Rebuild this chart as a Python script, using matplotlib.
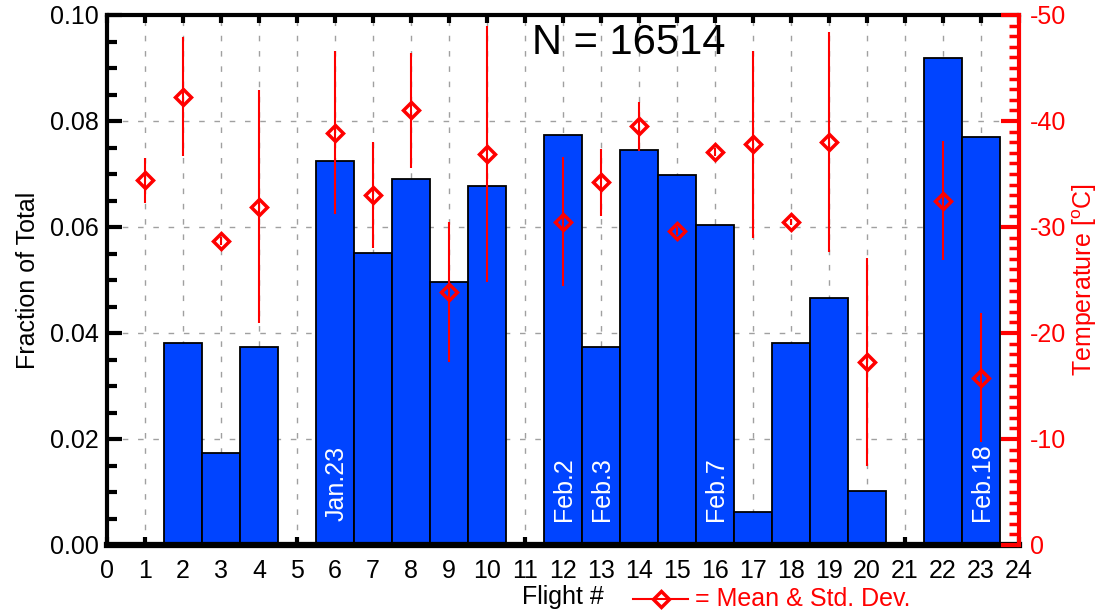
import matplotlib
matplotlib.use("Agg")
import matplotlib.pyplot as plt
from matplotlib.lines import Line2D
from matplotlib.ticker import MultipleLocator, FormatStrFormatter

plt.rcParams['font.family'] = ['Liberation Sans', 'DejaVu Sans']
plt.rcParams['mathtext.fontset'] = 'custom'
plt.rcParams['mathtext.rm'] = 'Liberation Sans'
plt.rcParams['mathtext.it'] = 'Liberation Sans'
plt.rcParams['axes.unicode_minus'] = False

# ---- data ----
flights = [2, 3, 4, 6, 7, 8, 9, 10, 12, 13, 14, 15, 16, 17, 18, 19, 20, 22, 23]
fraction = [0.0382, 0.0173, 0.0373, 0.0725, 0.0551, 0.0690, 0.0497, 0.0677,
            0.0773, 0.0374, 0.0745, 0.0699, 0.0603, 0.0062, 0.0382, 0.0466,
            0.0101, 0.0919, 0.0769]

temp_flights = [1, 2, 3, 4, 6, 7, 8, 9, 10, 12, 13, 14, 15, 16, 17, 18, 19, 20, 22, 23]
temp_mean = [-34.4, -42.3, -28.7, -31.9, -38.9, -33.0, -41.0, -23.9, -36.9,
             -30.5, -34.2, -39.5, -29.6, -37.1, -37.8, -30.5, -38.0, -17.3,
             -32.5, -15.8]
temp_std = [2.1, 5.6, 0.4, 11.0, 7.7, 5.0, 5.4, 6.6, 12.1,
            6.1, 3.2, 2.3, 0.4, 0.4, 8.8, 0.3, 10.4, 9.8,
            5.6, 6.1]

date_flights = [6, 12, 13, 16, 23]
date_labels = ['Jan.23', 'Feb.2', 'Feb.3', 'Feb.7', 'Feb.18']

xticks = list(range(0, 25))
n_text = 'N = 16514'

FS = 18

# ---- figure ----
W, H = 1097, 610
fig = plt.figure(figsize=(W / 100, H / 100), dpi=100)
L, R, B, T = 107, 1019, 545, 15
ax = fig.add_axes([L / W, 1 - B / H, (R - L) / W, (B - T) / H])

ax.bar(flights, fraction, width=1.0, color='#0044ff', edgecolor='black',
       linewidth=1.3, zorder=2)
ax.set_xlim(0, 24)
ax.set_ylim(0, 0.10)
ax.set_xticks(xticks)
ax.set_xticklabels([str(t) for t in xticks])
ax.yaxis.set_major_locator(MultipleLocator(0.02))
ax.yaxis.set_minor_locator(MultipleLocator(0.005))
ax.yaxis.set_major_formatter(FormatStrFormatter('%.2f'))
ax.grid(True, which='major', color='#a0a0a0', linestyle=(0, (4, 7)),
        linewidth=1.0, zorder=0)
ax.set_axisbelow(True)

ax.tick_params(axis='x', which='major', direction='in', length=6, width=3,
               top=True, bottom=True, labelsize=FS, pad=10, color='black')
ax.tick_params(axis='y', which='major', direction='in', length=11, width=3,
               left=True, right=False, labelsize=FS, pad=6)
ax.tick_params(axis='y', which='minor', direction='in', length=7, width=3,
               left=True, right=False)
for s in ['left', 'top']:
    ax.spines[s].set_linewidth(3)
ax.spines['bottom'].set_linewidth(4.5)
ax.spines['right'].set_visible(False)

ax.set_ylabel('Fraction of Total', fontsize=FS)
ax.yaxis.set_label_coords(-67 / (R - L), 0.5)
ax.set_xlabel('Flight #', fontsize=FS, va='center')
ax.xaxis.set_label_coords(0.5, -(597 - B) / (B - T))

for xf, lab in zip(date_flights, date_labels):
    ax.text(xf + 0.03, 0.0045, lab, rotation=90, ha='center', va='bottom',
            color='white', fontsize=FS, zorder=5)

ax.text(0.572, 0.947, n_text, transform=ax.transAxes, ha='center',
        va='center', fontsize=30, zorder=6)

# ---- temperature axis ----
ax2 = ax.twinx()
ax2.set_ylim(0, -50)
ax2.errorbar(temp_flights, temp_mean, yerr=temp_std, fmt='D', mfc='none',
             mec='red', ecolor='red', ms=8.5, mew=2.5, elinewidth=1.5,
             capsize=0, zorder=4)
ax2.yaxis.set_major_locator(MultipleLocator(10))
ax2.yaxis.set_minor_locator(MultipleLocator(1))
ax2.tick_params(axis='y', which='major', direction='in', length=13, width=3,
                colors='red', labelsize=FS, pad=8)
ax2.tick_params(axis='y', which='minor', direction='in', length=7, width=2.5,
                colors='red')
for s in ['left', 'top', 'bottom']:
    ax2.spines[s].set_visible(False)
ax2.spines['right'].set_color('red')
ax2.spines['right'].set_linewidth(3)
ax2.set_ylabel('Temperature [$^{\\rm o}$C]', color='red', fontsize=FS)
ax2.yaxis.set_label_coords(1 + 51 / (R - L), 0.5)

# ---- legend-like key below axes ----
ly = 1 - 599 / H
fig.add_artist(Line2D([633 / W, 688 / W], [ly, ly], transform=fig.transFigure,
                      color='red', linewidth=1.5))
fig.add_artist(Line2D([661 / W], [ly], transform=fig.transFigure,
                      marker='D', ms=8.5, mfc='none', mec='red', mew=2.5,
                      linestyle='none'))
fig.text(695 / W, ly, '= Mean & Std. Dev.', color='red', fontsize=FS,
         ha='left', va='center')

fig.savefig('out.png', dpi=100)
